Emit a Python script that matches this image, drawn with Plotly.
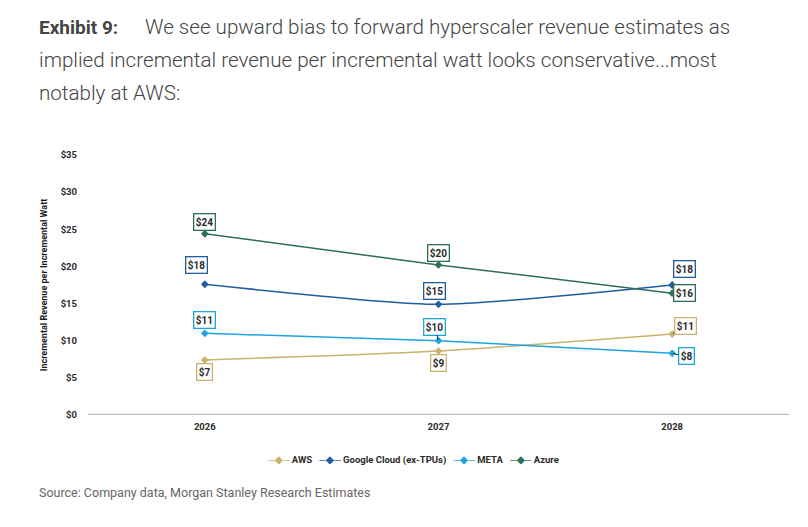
import plotly.graph_objects as go

years = ["2026", "2027", "2028"]
aws = [7.4, 8.6, 10.9]
google = [17.6, 14.9, 17.5]
meta = [11.0, 10.0, 8.3]
azure = [24.4, 20.2, 16.4]

aws_labels = ["$7", "$9", "$11"]
google_labels = ["$18", "$15", "$18"]
meta_labels = ["$11", "$10", "$8"]
azure_labels = ["$24", "$20", "$16"]

y_ticks = [0, 5, 10, 15, 20, 25, 30, 35]
y_tick_text = ["$" + str(v) for v in y_ticks]

COND = "Liberation Sans Narrow, Arial Narrow, Roboto, sans-serif"

series = [
    ("AWS", aws, aws_labels, "#C9B36E"),
    ("Google Cloud (ex-TPUs)", google, google_labels, "#1F5DA0"),
    ("META", meta, meta_labels, "#1EA5DF"),
    ("Azure", azure, azure_labels, "#2E6E5A"),
]

# page is rendered with an 8px body margin: work in figure pixels
OFF = 8
W, H = 808, 527
L, T = 88 - OFF, 155 - OFF
R = W - (789 - OFF)
B = H - (415 - OFF)
pw, ph = W - L - R, H - T - B


def px_x(px):
    return (px - OFF - L) / pw


def px_y(py):
    return (H - B - (py - OFF)) / ph


fig = go.Figure()
for name, vals, labs, col in series:
    fig.add_trace(go.Scatter(
        x=years, y=vals, name=name, mode="lines+markers",
        line=dict(color=col, width=1.5, shape="spline", smoothing=0.6),
        marker=dict(symbol="diamond", size=6, color=col),
        hoverinfo="skip", showlegend=False,
    ))

# label offsets (pixels): (xshift, yshift, leader)
offsets = {
    "AWS": [(0, -12, False), (0, -12, False), (13, 8, True)],
    "Google Cloud (ex-TPUs)": [(-8, 19, False), (-4, 13, False), (12, 16, False)],
    "META": [(0, 13, False), (-4, 14, True), (14, -3, True)],
    "Azure": [(0, 12, False), (0, 12, False), (12, 0, False)],
}

for name, vals, labs, col in series:
    for i, (v, lab) in enumerate(zip(vals, labs)):
        dx, dy, leader = offsets[name][i]
        common = dict(
            x=i, y=v, text="<b>" + lab + "</b>", xref="x", yref="y",
            font=dict(family=COND, size=10, color="#2b2b2b"),
            bordercolor=col, borderwidth=1.3, borderpad=1.5, bgcolor="white",
        )
        if leader:
            fig.add_annotation(**common, showarrow=True, arrowhead=0,
                               arrowwidth=1, arrowcolor="#222",
                               ax=dx, ay=-dy, standoff=1)
        else:
            fig.add_annotation(**common, showarrow=False, xshift=dx, yshift=dy)

# Title
title_font = dict(family="Roboto, sans-serif", size=20.6, color="#444444", weight=300)
title_bold = dict(family="Roboto, sans-serif", size=19, color="#444444")
title_lines = [
    ("<b>Exhibit 9:</b>", 37, 27, title_bold),
    ("We see upward bias to forward hyperscaler revenue estimates as", 143, 27, title_font),
    ("implied incremental revenue per incremental watt looks conservative...most", 37, 60, title_font),
    ("notably at AWS:", 37, 93, title_font),
]
for txt, xp, yp, f in title_lines:
    fig.add_annotation(text=txt, xref="paper", yref="paper", x=px_x(xp), y=px_y(yp),
                       showarrow=False, xanchor="left", yanchor="middle", font=f)

# Source
fig.add_annotation(text="Source: Company data, Morgan Stanley Research Estimates",
                   xref="paper", yref="paper", x=px_x(37), y=px_y(492), showarrow=False,
                   xanchor="left", yanchor="middle",
                   font=dict(family="Roboto, sans-serif", size=12.5, color="#666666"))

# Legend (compact, like the reference)
NB = "&nbsp;"
parts = []
for name, vals, labs, col in series:
    parts.append("<span style='color:%s'>\u2500\u25c6\u2500</span>%s%s" % (col, NB, name))
legend_text = "<b>" + (NB * 3).join(parts) + "</b>"
fig.add_annotation(text=legend_text, xref="paper", yref="paper", x=px_x(413), y=px_y(460),
                   showarrow=False, xanchor="center", yanchor="middle",
                   font=dict(family=COND, size=9.5, color="#2b2b2b"))

fig.update_layout(
    width=W, height=H,
    margin=dict(l=L, r=R, t=T, b=B),
    paper_bgcolor="white", plot_bgcolor="white",
    showlegend=False,
    xaxis=dict(type="category", range=[-0.5, 2.5], showgrid=False, showline=False,
               zeroline=False, ticks="", ticklabelstandoff=4,
               tickfont=dict(family=COND, size=9.5, color="#2b2b2b", weight="bold")),
    yaxis=dict(range=[0, 35], tickvals=y_ticks, ticktext=y_tick_text,
               showgrid=False, zeroline=False, showline=False, ticks="",
               ticklabelstandoff=10,
               tickfont=dict(family=COND, size=9.5, color="#2b2b2b", weight="bold"),
               title=dict(text="<b>Incremental Revenue per Incremental Watt</b>",
                          standoff=11,
                          font=dict(family=COND, size=9, color="#1a1a1a"))),
)
fig.add_shape(type="line", xref="paper", yref="y", x0=0, x1=1, y0=0, y1=0,
              line=dict(color="#BDBDBD", width=2.5), layer="below")

fig.write_html("out.html")
